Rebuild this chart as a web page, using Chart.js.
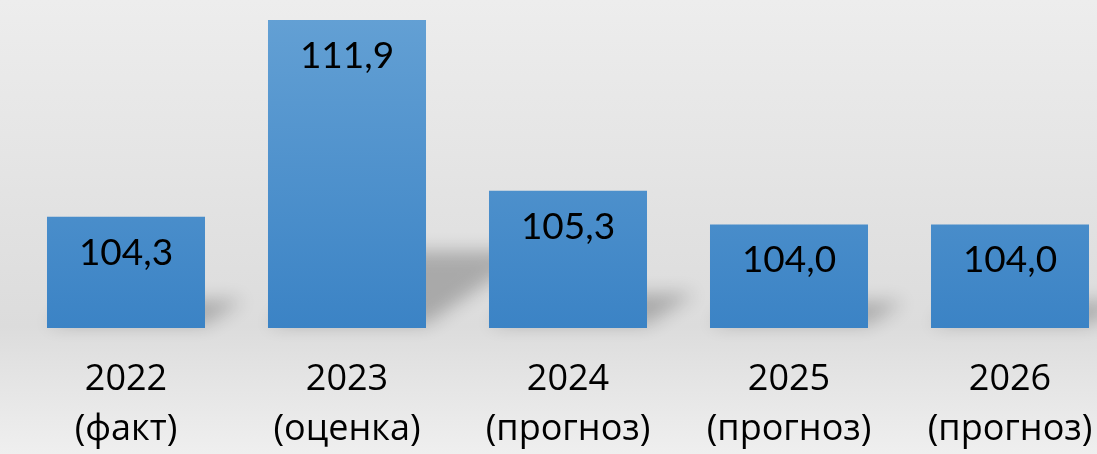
<!DOCTYPE html>
<html>
<head>
<meta charset="utf-8">
<script src="https://cdn.jsdelivr.net/npm/chart.js@4.4.1/dist/chart.umd.min.js"></script>
<style>
  html, body { margin: 0; padding: 0; overflow: hidden; }
  body {
    width: 1097px; height: 454px;
    background: linear-gradient(to bottom, #ededed 0%, #dcdcdc 72%, #e2e2e2 80%, #efefef 100%);
  }
  #wrap { width: 1125px; height: 454px; }
</style>
</head>
<body>
<div id="wrap"><canvas id="myChart" width="1125" height="454"></canvas></div>
<script>
// Data
const years = ["2022", "2023", "2024", "2025", "2026"];
const notes = ["(факт)", "(оценка)", "(прогноз)", "(прогноз)", "(прогноз)"];
const values = [104.3, 111.9, 105.3, 104.0, 104.0];
const labels = years.map((y, i) => [y, notes[i]]);
const barPct = 0.715;

// Soft perspective shadow behind each bar (shape drawn off-canvas, only its blurred shadow lands)
const shadowPlugin = {
  id: "barShadow",
  beforeDatasetsDraw(chart) {
    const ctx = chart.ctx;
    const xs = chart.scales.x, ys = chart.scales.y;
    const base = ys.getPixelForValue(ys.min);
    const w = (xs.getPixelForValue(1) - xs.getPixelForValue(0)) * barPct;
    const off = 3000;
    ctx.save();
    ctx.shadowColor = "rgba(0,0,0,0.24)";
    ctx.shadowBlur = 18;
    ctx.shadowOffsetX = off;
    ctx.shadowOffsetY = 0;
    ctx.fillStyle = "#000";
    values.forEach((v, i) => {
      const cx = xs.getPixelForValue(i);
      const top = ys.getPixelForValue(v);
      const h = (base - top) * 0.25;
      const dx = h * 1.4;
      const left = cx - w / 2 - off;
      const right = cx + w / 2 - off;
      ctx.beginPath();
      ctx.moveTo(left, base - 4);
      ctx.lineTo(right, base - 4);
      ctx.lineTo(right + dx, base - h);
      ctx.lineTo(left + dx, base - h);
      ctx.closePath();
      ctx.fill();
    });
    ctx.restore();
  }
};

// Value labels inside the top of each bar
const valuePlugin = {
  id: "valueLabels",
  afterDatasetsDraw(chart) {
    const ctx = chart.ctx;
    const meta = chart.getDatasetMeta(0);
    ctx.save();
    ctx.font = "37px Lato";
    ctx.fillStyle = "#000";
    ctx.textAlign = "center";
    ctx.textBaseline = "middle";
    meta.data.forEach((bar, i) => {
      ctx.fillText(values[i].toFixed(1).replace(".", ","), bar.x, bar.y + 36);
    });
    ctx.restore();
  }
};

const ctx = document.getElementById("myChart").getContext("2d");
new Chart(ctx, {
  type: "bar",
  data: {
    labels: labels,
    datasets: [{
      data: values,
      backgroundColor: function(context) {
        const area = context.chart.chartArea;
        if (!area) return "#4f92cd";
        const el = context.element;
        const top = el && el.y ? el.y : area.top;
        const g = context.chart.ctx.createLinearGradient(0, top, 0, area.bottom);
        g.addColorStop(0, "#63a0d4");
        g.addColorStop(1, "#3b83c5");
        return g;
      },
      borderWidth: 0,
      barPercentage: barPct,
      categoryPercentage: 1
    }]
  },
  options: {
    responsive: false,
    animation: false,
    layout: { padding: { left: 15.5, right: 4.5, top: 17.4, bottom: 0 } },
    plugins: { legend: { display: false }, tooltip: { enabled: false } },
    scales: {
      y: { display: false, min: 100, max: 112 },
      x: {
        afterFit(scale) { scale.height = 126; },
        grid: { display: false, drawTicks: false },
        border: { display: false },
        ticks: {
          color: "#000",
          padding: 27,
          maxRotation: 0,
          autoSkip: false,
          font: { family: "'Open Sans'", size: 36, lineHeight: 1.39 }
        }
      }
    }
  },
  plugins: [shadowPlugin, valuePlugin]
});
</script>
</body>
</html>
